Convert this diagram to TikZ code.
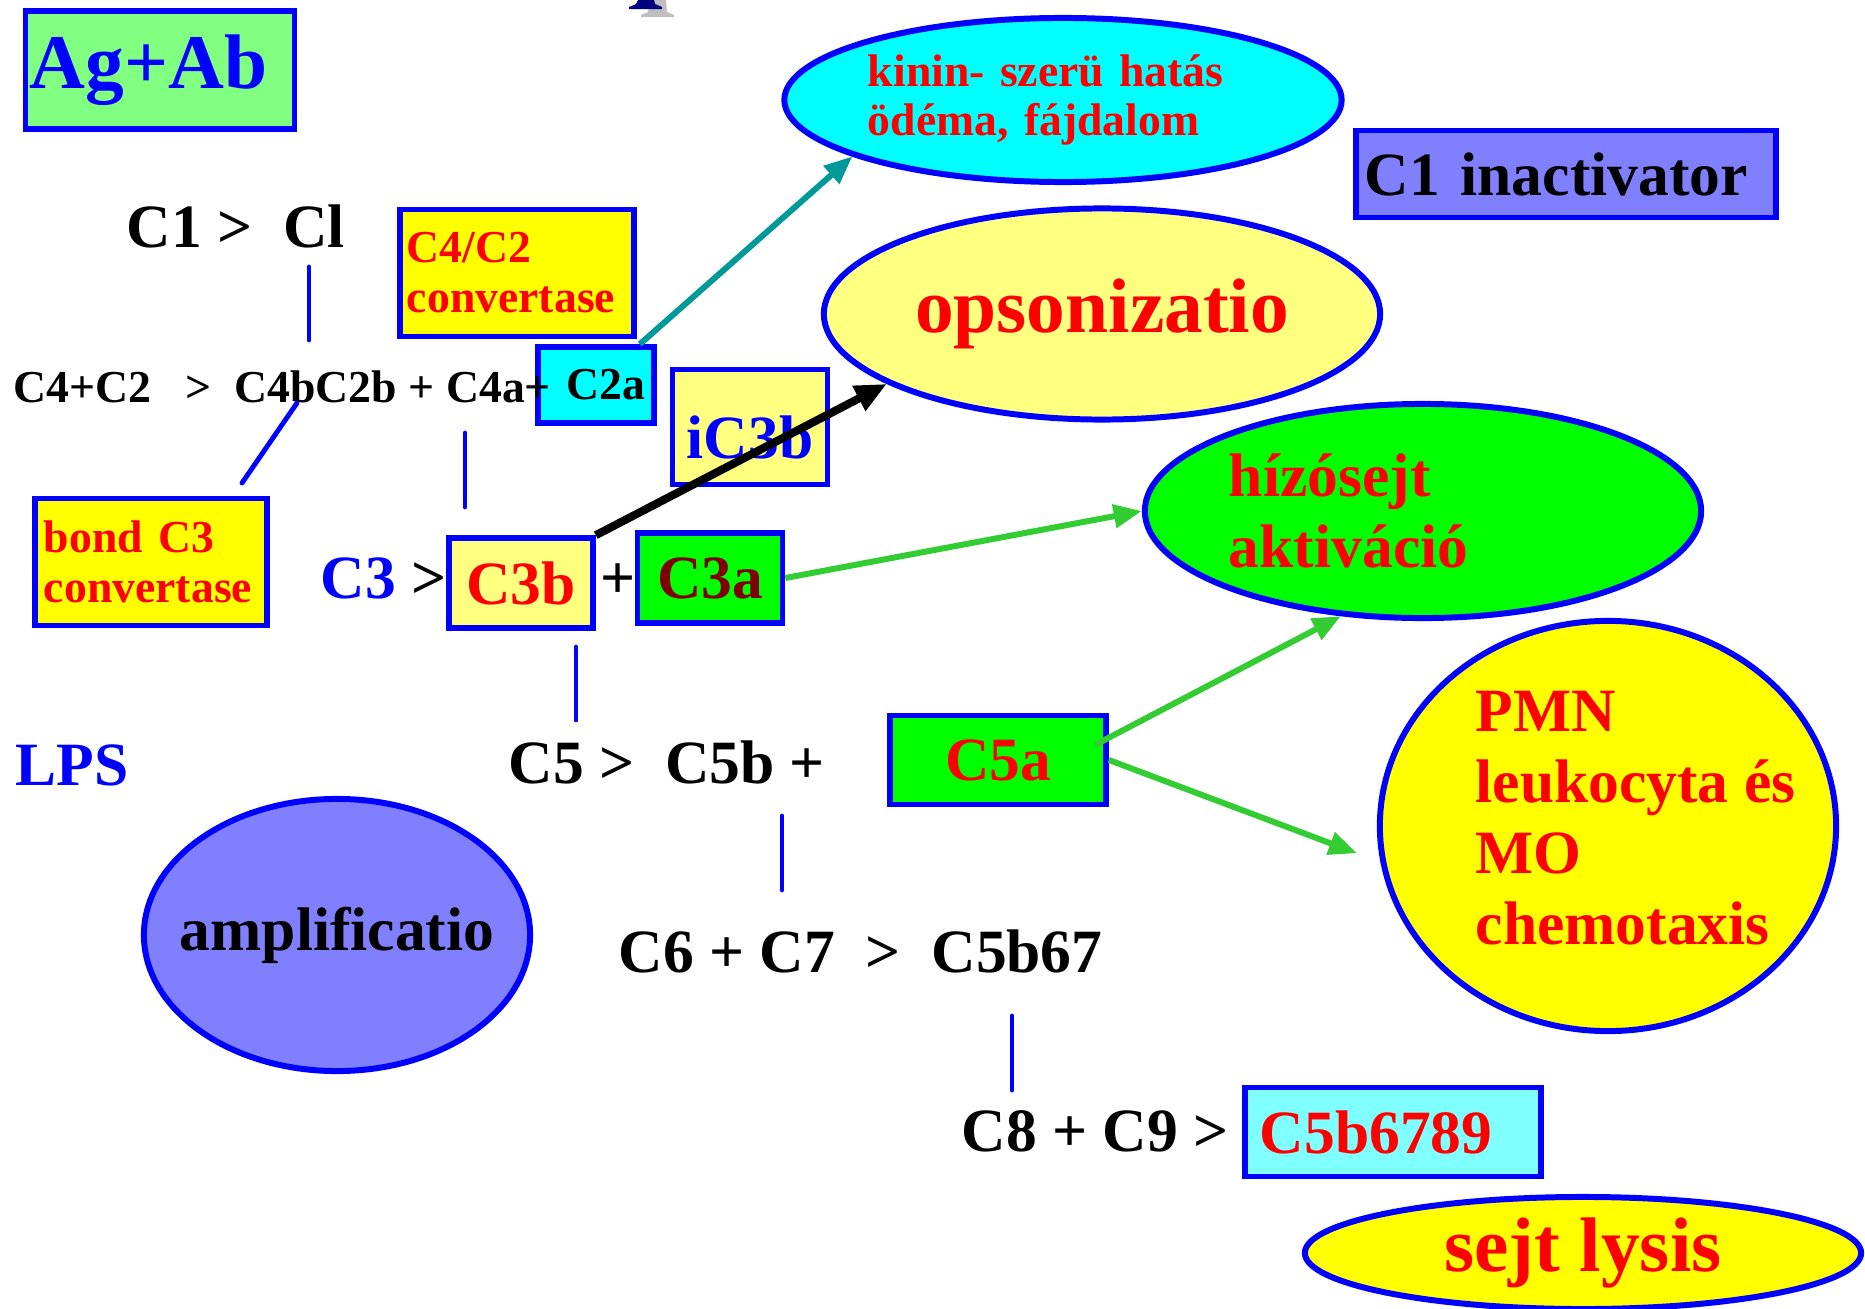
\documentclass[tikz,border=0pt]{standalone}
\usepackage{fontspec}
\setmainfont{Liberation Serif}
\usetikzlibrary{shapes.geometric,arrows.meta}

\definecolor{cblue}{HTML}{0000FF}
\definecolor{cred}{HTML}{FF0000}
\definecolor{cyel}{HTML}{FFFF00}
\definecolor{ccyan}{HTML}{00FFFF}
\definecolor{cgreen}{HTML}{00FF00}
\definecolor{lgreen}{HTML}{80FF80}
\definecolor{lyellow}{HTML}{FFFF80}
\definecolor{lcyan}{HTML}{80FFFF}
\definecolor{lviolet}{HTML}{8080FF}
\definecolor{dred}{HTML}{800000}
\definecolor{cteal}{HTML}{009999}
\definecolor{agreen}{HTML}{33CC33}
\definecolor{navy}{HTML}{000080}

\tikzset{
  box/.style={draw=cblue, line width=1.6pt, inner sep=0pt},
  blob/.style={ellipse, draw=cblue, line width=1.7pt, inner sep=0pt},
  link/.style={cblue, line width=1.4pt, line cap=round},
  pointer/.style={line width=1.7pt, -{Triangle[length=8pt,width=6.5pt]}},
  txtbig/.style={font=\fontsize{22}{25}\selectfont\bfseries},
  txtmid/.style={font=\fontsize{17.5}{20.2}\selectfont\bfseries},
  txtsmall/.style={font=\fontsize{13}{14.2}\selectfont\bfseries},
}

\begin{document}
\begin{tikzpicture}[x=0.01cm, y=-0.01cm]
  \useasboundingbox (0,0) rectangle (1865,1309);

  % Draw the cut-off title letter
  \fill[gray!50] (650,0) -- (666,0) -- (667,12) -- (674,15) -- (674,17) -- (641,17) -- (641,15) -- (648,12) -- cycle;
  \fill[navy] (638,0) -- (654,0) -- (655,4) -- (662,7) -- (662,9) -- (629,9) -- (629,7) -- (636,4) -- cycle;

  % Draw the boxes
  \node[box, fill=lgreen, minimum width=2.69cm, minimum height=1.18cm, text width=2.6cm, align=left, txtbig, text=cblue] (agab) at (160,70) {Ag+Ab};
  \node[box, fill=cyel, minimum width=2.34cm, minimum height=1.27cm, text width=2.2cm, align=left, txtsmall, text=cred] (c4c2) at (517,273) {C4/C2\\convertase};
  \node[box, fill=ccyan, minimum width=1.16cm, minimum height=0.76cm, text width=0.98cm, align=right, txtsmall] (c2a) at (596,385) {C2a};
  \node[box, fill=cyel, minimum width=2.32cm, minimum height=1.27cm, text width=2.14cm, align=left, txtsmall, text=cred] (bond) at (151,562) {bond C3\\convertase};
  \node[box, fill=lyellow, minimum width=1.55cm, minimum height=1.15cm, txtmid, text=cblue, text height=18pt, text depth=0pt] (ic3b) at (750,427) {iC3b};
  \node[box, fill=lyellow, minimum width=1.44cm, minimum height=0.90cm, txtmid, text=cred] (c3b) at (521,583) {C3b};
  \node[box, fill=cgreen, minimum width=1.45cm, minimum height=0.90cm, txtmid, text=dred] (c3a) at (710,578) {C3a};
  \node[box, fill=lviolet, minimum width=4.20cm, minimum height=0.87cm, text width=4.02cm, align=left, txtmid] (c1inact) at (1566,174) {C1 inactivator};
  \node[box, fill=cgreen, minimum width=2.16cm, minimum height=0.89cm, txtmid, text=cred] (c5a) at (998,760) {C5a};
  \node[box, fill=lcyan, minimum width=2.96cm, minimum height=0.89cm, text width=2.66cm, align=left, txtmid, text=cred] (c5b6789) at (1393,1132) {C5b6789};

  % Draw the ellipses
  \node[blob, fill=ccyan, minimum width=5.57cm, minimum height=1.64cm, text width=3.9cm, align=left, txtsmall, text=cred] (kinin) at (1063,100) {kinin- szerü hatás\\ödéma, fájdalom};
  \node[blob, fill=lyellow, minimum width=5.56cm, minimum height=2.11cm, txtbig, text=cred] (ops) at (1102,314) {opsonizatio};
  \node[blob, fill=cgreen, minimum width=5.56cm, minimum height=2.14cm, text width=3.88cm, align=left, txtmid, text=cred] (hizo) at (1423,511) {hízósejt\\aktiváció};
  \node[blob, fill=cyel, minimum width=4.56cm, minimum height=4.10cm] (pmn) at (1608,826) {};
  \node[txtmid, text=cred, align=left, anchor=west, inner sep=0pt] (pmntext) at (1475,818) {PMN\\leukocyta és\\MO\\chemotaxis};
  \node[blob, fill=lviolet, minimum width=3.86cm, minimum height=2.72cm, txtmid] (ampl) at (337,935) {\makebox[0pt]{amplificatio}};
  \node[blob, fill=cyel, minimum width=5.56cm, minimum height=1.12cm, txtbig, text=cred] (lysis) at (1583,1253) {sejt lysis};

  % Draw the reaction steps
  \node[txtmid, anchor=base west, inner sep=0pt] (c1row) at (126,248) {C1 >\ \ Cl};
  \node[txtsmall, anchor=base west, inner sep=0pt] (c4row) at (13,402) {C4+C2\ \ \ >\ \ C4bC2b + C4a+};
  \node[txtmid, anchor=base west, inner sep=0pt] (c3row) at (320,598) {\textcolor{cblue}{C3} >};
  \node[txtmid, anchor=base, inner sep=0pt] (plus) at (618,598) {+};
  \node[txtmid, anchor=base west, inner sep=0pt, text=cblue] (lps) at (15,785) {LPS};
  \node[txtmid, anchor=base west, inner sep=0pt] (c5row) at (508,783) {C5 >\ \ C5b +};
  \node[txtmid, anchor=base west, inner sep=0pt] (c6row) at (618,972) {C6 + C7\ \ >\ \ C5b67};
  \node[txtmid, anchor=base west, inner sep=0pt] (c8row) at (961,1151) {C8 + C9 >};

  % Draw the short blue lines between the steps
  \coordinate (l1a) at (309,267);
  \coordinate (l1b) at (309,340);
  \coordinate (l2a) at (297,403);
  \coordinate (l2b) at (242,483);
  \coordinate (l3a) at (465,433);
  \coordinate (l3b) at (465,507);
  \coordinate (l4a) at (576,647);
  \coordinate (l4b) at (576,720);
  \coordinate (l5a) at (782,816);
  \coordinate (l5b) at (782,890);
  \coordinate (l6a) at (1012,1016);
  \coordinate (l6b) at (1012,1090);
  \draw[link] (l1a) -- (l1b);
  \draw[link] (l2a) -- (l2b);
  \draw[link] (l3a) -- (l3b);
  \draw[link] (l4a) -- (l4b);
  \draw[link] (l5a) -- (l5b);
  \draw[link] (l6a) -- (l6b);

  % Draw the arrows
  \draw[pointer, cteal] ([xshift=-0.17cm]c2a.north east) -- (kinin.195);
  \draw[pointer, black, line width=2.3pt, -{Triangle[length=9pt,width=7.5pt]}] (c3b.north east) -- (ops.198);
  \draw[pointer, agreen] (c3a.east) -- (hizo.west);
  \draw[pointer, agreen] ([xshift=-0.14cm, yshift=0.15cm]c5a.east) -- (hizo.232);
  \draw[pointer, agreen, shorten >=0.25cm] (c5a.east) -- (pmn.189);

\end{tikzpicture}
\end{document}
